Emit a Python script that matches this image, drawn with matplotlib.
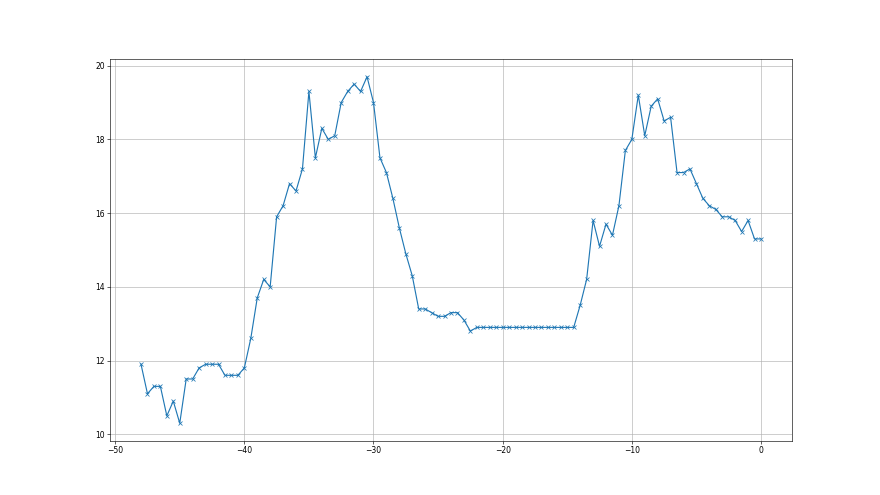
import numpy as np
import matplotlib
matplotlib.use('Agg')
import matplotlib.pyplot as plt

x = np.arange(-48, 0.01, 0.5)
y = [11.9, 11.1, 11.3, 11.3, 10.5, 10.9, 10.3, 11.5, 11.5, 11.8,
     11.9, 11.9, 11.9, 11.6, 11.6, 11.6, 11.8, 12.6, 13.7, 14.2,
     14.0, 15.9, 16.2, 16.8, 16.6, 17.2, 19.3, 17.5, 18.3, 18.0,
     18.1, 19.0, 19.3, 19.5, 19.3, 19.7, 19.0, 17.5, 17.1, 16.4,
     15.6, 14.9, 14.3, 13.4, 13.4, 13.3, 13.2, 13.2, 13.3, 13.3,
     13.1, 12.8, 12.9, 12.9, 12.9, 12.9, 12.9, 12.9, 12.9, 12.9,
     12.9, 12.9, 12.9, 12.9, 12.9, 12.9, 12.9, 12.9, 13.5, 14.2,
     15.8, 15.1, 15.7, 15.4, 16.2, 17.7, 18.0, 19.2, 18.1, 18.9,
     19.1, 18.5, 18.6, 17.1, 17.1, 17.2, 16.8, 16.4, 16.2, 16.1,
     15.9, 15.9, 15.8, 15.5, 15.8, 15.3, 15.3]

# 16x9 figure rendered at 55 dpi -> 880x495
fig = plt.figure(figsize=(16, 9), dpi=55)
plt.plot(x, y, 'x-')
plt.grid()
plt.savefig('out.png', dpi=55)
